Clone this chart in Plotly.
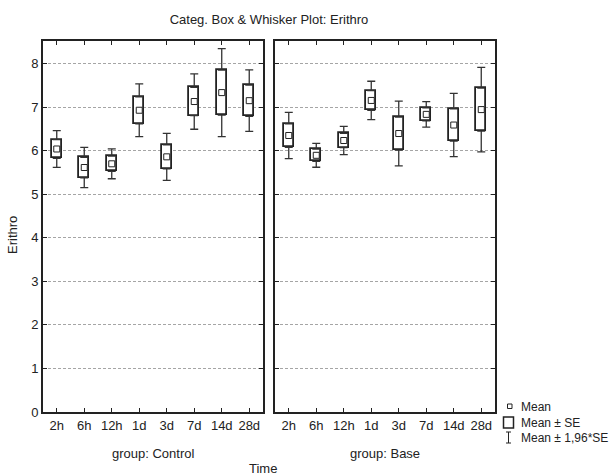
import plotly.graph_objects as go

times = ["2h", "6h", "12h", "1d", "3d", "7d", "14d", "28d"]
control_mean = [6.04, 5.615, 5.70, 6.93, 5.86, 7.13, 7.335, 7.15]
control_se = [0.215, 0.235, 0.175, 0.31, 0.275, 0.325, 0.515, 0.36]
base_mean = [6.35, 5.895, 6.235, 7.155, 6.395, 6.835, 6.59, 6.945]
base_se = [0.27, 0.14, 0.165, 0.225, 0.38, 0.15, 0.37, 0.495]
yticks = [0, 1, 2, 3, 4, 5, 6, 7, 8]

FONT = "Liberation Sans, Arial, sans-serif"
DARK = "#222222"

fig = go.Figure()

def add_group(means, ses, xa, ya):
    lo_box = [m - s for m, s in zip(means, ses)]
    hi_box = [m + s for m, s in zip(means, ses)]
    # whiskers (drawn under the box)
    fig.add_trace(go.Scatter(
        x=times, y=hi_box, mode="markers", marker=dict(size=1, color="rgba(0,0,0,0)"),
        error_y=dict(type="data", symmetric=False, array=[1.96 * s - s for s in ses],
                     arrayminus=[0] * len(ses), color="#333333", thickness=1.3, width=4),
        xaxis=xa, yaxis=ya, showlegend=False, hoverinfo="skip"))
    fig.add_trace(go.Scatter(
        x=times, y=lo_box, mode="markers", marker=dict(size=1, color="rgba(0,0,0,0)"),
        error_y=dict(type="data", symmetric=False, array=[0] * len(ses),
                     arrayminus=[1.96 * s - s for s in ses], color="#333333", thickness=1.3, width=4),
        xaxis=xa, yaxis=ya, showlegend=False, hoverinfo="skip"))
    # box: mean +/- SE
    fig.add_trace(go.Bar(
        x=times, y=[h - l for h, l in zip(hi_box, lo_box)], base=lo_box, width=0.38,
        marker=dict(color="white", line=dict(color=DARK, width=1.8)),
        xaxis=xa, yaxis=ya, showlegend=False, hoverinfo="skip"))
    # mean marker
    fig.add_trace(go.Scatter(
        x=times, y=means, mode="markers",
        marker=dict(symbol="square", size=6, color="white", line=dict(color=DARK, width=1)),
        xaxis=xa, yaxis=ya, showlegend=False))

add_group(control_mean, control_se, "x", "y")
add_group(base_mean, base_se, "x2", "y2")

xcommon = dict(type="category", range=[-0.5, 7.5], showline=True, linewidth=2, linecolor=DARK,
               mirror="ticks", ticks="inside", ticklen=4, tickwidth=1.3, tickcolor=DARK,
               showgrid=False, zeroline=False, tickfont=dict(family=FONT, size=13, color=DARK),
               fixedrange=True)
ycommon = dict(range=[0, 8.52], tickvals=yticks, showline=True, linewidth=2, linecolor=DARK,
               mirror="ticks", ticks="inside", ticklen=4, tickwidth=1.3, tickcolor=DARK,
               showgrid=True, gridcolor="#a5a5a5", griddash="3px,2px", gridwidth=1,
               zeroline=False, tickfont=dict(family=FONT, size=13, color=DARK))

fig.update_layout(
    width=613, height=475,
    margin=dict(l=43, r=118, t=41, b=63),
    paper_bgcolor="white", plot_bgcolor="white",
    bargap=0,
    xaxis=dict(domain=[0, 0.4867], anchor="y", **xcommon),
    xaxis2=dict(domain=[0.5133, 1], anchor="y2", **xcommon),
    yaxis=dict(domain=[0, 1], anchor="x", showticklabels=True, **ycommon),
    yaxis2=dict(domain=[0, 1], anchor="x2", showticklabels=False, **ycommon),
    title=dict(text="Categ. Box & Whisker Plot: Erithro", x=0.5, xref="paper",
               y=1 - 19 / 475, yref="container", yanchor="middle", xanchor="center",
               font=dict(family=FONT, size=13, color=DARK)),
    font=dict(family=FONT, size=13, color=DARK),
    showlegend=False,
)

# helpers converting reference pixel positions to paper coordinates
def px(xp):
    return (xp - 43) / 452.0

def py(yp):
    return (412 - yp) / 371.0

ann_font = dict(family=FONT, size=13, color=DARK)
fig.add_annotation(text="group: Control", x=px(153), y=py(453), xref="paper", yref="paper",
                   showarrow=False, xanchor="center", yanchor="middle", font=ann_font)
fig.add_annotation(text="group: Base", x=px(385), y=py(453), xref="paper", yref="paper",
                   showarrow=False, xanchor="center", yanchor="middle", font=ann_font)
fig.add_annotation(text="Time", x=px(263), y=py(468), xref="paper", yref="paper",
                   showarrow=False, xanchor="center", yanchor="middle", font=ann_font)
fig.add_annotation(text="Erithro", x=px(12), y=py(235), xref="paper", yref="paper",
                   showarrow=False, xanchor="center", yanchor="middle", textangle=-90,
                   font=ann_font)

leg_font = dict(family=FONT, size=12, color=DARK)
fig.add_shape(type="rect", xref="paper", yref="paper", x0=px(507.5), x1=px(512),
              y0=py(408.5), y1=py(404), line=dict(color=DARK, width=1), fillcolor="white")
fig.add_shape(type="rect", xref="paper", yref="paper", x0=px(503.5), x1=px(513.5),
              y0=py(428), y1=py(417), line=dict(color=DARK, width=1.5), fillcolor="white")
fig.add_shape(type="line", xref="paper", yref="paper", x0=px(508.5), x1=px(508.5),
              y0=py(443), y1=py(432), line=dict(color=DARK, width=1))
fig.add_shape(type="line", xref="paper", yref="paper", x0=px(506), x1=px(511),
              y0=py(432), y1=py(432), line=dict(color=DARK, width=1))
fig.add_shape(type="line", xref="paper", yref="paper", x0=px(506), x1=px(511),
              y0=py(443), y1=py(443), line=dict(color=DARK, width=1))
for label, yy in [("Mean", 406.5), ("Mean ± SE", 422.5), ("Mean ± 1,96*SE", 437.5)]:
    fig.add_annotation(text=label, x=px(519), y=py(yy), xref="paper", yref="paper",
                       showarrow=False, xanchor="left", yanchor="middle", font=leg_font)

fig.write_html("out.html", config={"displayModeBar": False},
               post_script="document.body.style.margin='0';document.body.style.padding='0';")
